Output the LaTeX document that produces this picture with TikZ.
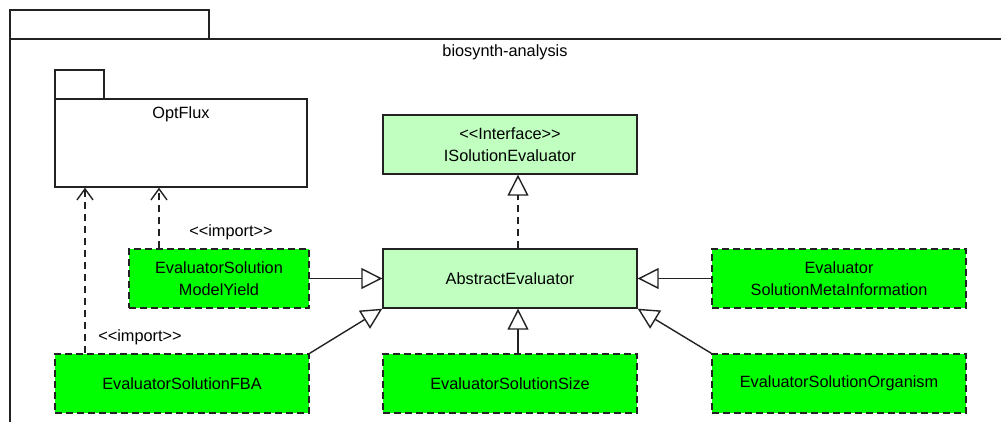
\documentclass[tikz,border=0pt]{standalone}
\usepackage{fontspec}
\setmainfont{Liberation Sans}
\usetikzlibrary{arrows.meta}
\definecolor{ifacegreen}{HTML}{C0FFC0}
\definecolor{classgreen}{HTML}{00FF00}
\definecolor{linegray}{HTML}{222222}
\newcommand{\stereo}[1]{\textless\kern0pt\textless #1\textgreater\kern0pt\textgreater}
\tikzset{every path/.style={linegray,line width=1.4pt}, every node/.style={font=\fontsize{16.3}{19}\selectfont,text=black,align=center,inner sep=0pt}}
\tikzset{iface/.style={draw,fill=ifacegreen,minimum width=254pt,minimum height=59pt},
  implbox/.style={draw,fill=classgreen,dash pattern=on 7pt off 4pt,minimum width=254pt,minimum height=59pt},
  inherit/.style={-{Triangle[open,fill=white,length=21pt,width=21pt]}},
  imports/.style={dash pattern=on 7pt off 5pt,-{Straight Barb[length=11pt,width=16pt]}}}

\begin{document}
\begin{tikzpicture}[x=1pt,y=-1pt]
   \useasboundingbox (0,0) rectangle (1001,422);
   % outer package
   \draw (10,39) rectangle (209,10);
   \draw (10,430) -- (10,39) -- (1010,39);
   \node (pkgname) at (505,52) {biosynth-analysis};
   % imported package
   \draw (55,99) rectangle (104,70);
   \node[draw,minimum width=252pt,minimum height=88pt] (optflux) at (181,143) {};
   \node[below=8pt] (optfluxname) at (optflux.north) {OptFlux};
   % classes
   \node[iface] (isolution) at (510,144.5) {\stereo{Interface}\\[3pt]ISolutionEvaluator};
   \node[iface] (abstract) at (510,278.5) {AbstractEvaluator};
   \node[implbox,minimum width=180pt] (yield) at (219,278.5) {EvaluatorSolution\\[3pt]ModelYield};
   \node[implbox] (meta) at (839,278.5) {Evaluator\\[3pt]SolutionMetaInformation};
   \node[implbox] (fba) at (182,383.5) {EvaluatorSolutionFBA};
   \node[implbox] (size) at (510,383.5) {EvaluatorSolutionSize};
   \node[implbox] (organism) at (839,383.5) {EvaluatorSolutionOrganism};
   % relations
   \draw[inherit,dash pattern=on 7pt off 5pt] ([xshift=8pt]abstract.north) -- ([xshift=8pt]isolution.south);
   \draw[inherit] ([xshift=8pt]size.north) -- ([xshift=8pt]abstract.south);
   \draw[inherit] (yield.east) -- (abstract.west);
   \draw[inherit] (meta.west) -- (abstract.east);
   \draw[inherit] (fba.north east) -- (abstract.south west);
   \draw[inherit] (organism.north west) -- (abstract.south east);
   \draw[imports] ([xshift=-60pt]yield.north) -- ([xshift=-60pt]yield.north |- optflux.south);
   \draw[imports] ([xshift=-97pt]fba.north) -- ([xshift=-97pt]fba.north |- optflux.south);
   \node (import1) at (231,232) {\stereo{import}};
   \node (import2) at (140,337) {\stereo{import}};
\end{tikzpicture}
\end{document}
